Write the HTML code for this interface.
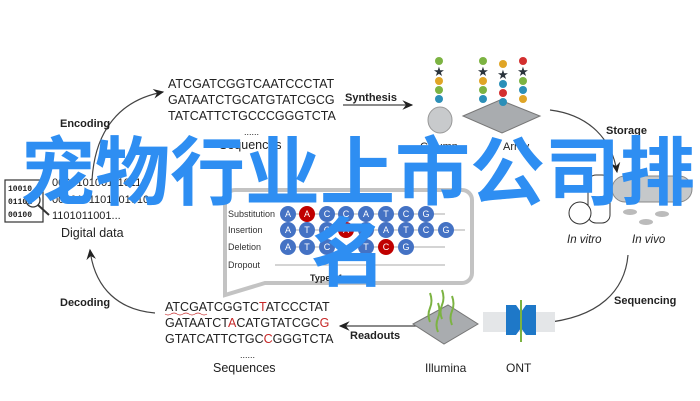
<!DOCTYPE html>
<html><head><meta charset="utf-8"><style>
html,body{margin:0;padding:0;background:#fff;}
svg{display:block;}
.t{font-family:"Liberation Sans",sans-serif;fill:#222;}
.b{font-weight:bold;}
.c{font-family:"Liberation Sans",sans-serif;font-size:9px;fill:#fff;text-anchor:middle;}
.cjk{font-family:"Liberation Sans","Noto Sans CJK SC",sans-serif;font-weight:bold;fill:#2e8ef2;font-size:75px;}
.st{font-family:"DejaVu Sans",sans-serif;font-size:13px;fill:#2a333b;text-anchor:middle;}
</style></head><body>
<svg width="700" height="401" viewBox="0 0 700 401" xmlns="http://www.w3.org/2000/svg">
<defs><marker id="ah" markerWidth="10" markerHeight="10" refX="8" refY="5" orient="auto"><path d="M0,1 L9,5 L0,9 L3,5 z" fill="#222"/></marker></defs>

<!-- arcs -->
<path d="M92,180 C95,130 120,100 163,92" fill="none" stroke="#444" stroke-width="1.2" marker-end="url(#ah)"/>
<path d="M155,313 C120,310 95,290 90,250" fill="none" stroke="#444" stroke-width="1.2" marker-end="url(#ah)"/>
<path d="M550,110 C590,115 612,140 617,172" fill="none" stroke="#444" stroke-width="1.2" marker-end="url(#ah)"/>
<path d="M628,255 C625,290 600,318 542,323" fill="none" stroke="#444" stroke-width="1.2" marker-end="url(#ah)"/>
<line x1="343" y1="105" x2="412" y2="105" stroke="#444" stroke-width="1.2" marker-end="url(#ah)"/>
<line x1="422" y1="326" x2="340" y2="326" stroke="#444" stroke-width="1.2" marker-end="url(#ah)"/>

<!-- top sequences -->
<text class="t" x="168" y="88" font-size="12.5">ATCGATCGGTCAATCCCTAT</text>
<text class="t" x="168" y="104" font-size="12.5">GATAATCTGCATGTATCGCG</text>
<text class="t" x="168" y="120" font-size="12.5">TATCATTCTGCCCGGGTCTA</text>
<text class="t" x="244" y="135" font-size="9">......</text>
<text class="t" x="219" y="149" font-size="12.5">Sequences</text>
<text class="t b" x="60" y="127" font-size="11">Encoding</text>
<text class="t b" x="345" y="101" font-size="11">Synthesis</text>

<!-- column & array -->
<ellipse cx="440" cy="120" rx="12" ry="13" fill="#c8cacc" stroke="#999"/>
<polygon points="463,116 500,100 540,116 502,133" fill="#a9acaf" stroke="#777"/>
<g>
<circle cx="439" cy="61" r="4" fill="#7cb342"/><text class="st" x="439" y="76">★</text>
<circle cx="439" cy="81" r="4" fill="#e0a526"/><circle cx="439" cy="90" r="4" fill="#7cb342"/><circle cx="439" cy="99" r="4" fill="#2b8fb8"/>
<circle cx="483" cy="61" r="4" fill="#7cb342"/><text class="st" x="483" y="76">★</text>
<circle cx="483" cy="81" r="4" fill="#e0a526"/><circle cx="483" cy="90" r="4" fill="#7cb342"/><circle cx="483" cy="99" r="4" fill="#2b8fb8"/>
<circle cx="503" cy="64" r="4" fill="#e0a526"/><text class="st" x="503" y="79">★</text>
<circle cx="503" cy="84" r="4" fill="#2b8fb8"/><circle cx="503" cy="93" r="4" fill="#d32f2f"/><circle cx="503" cy="102" r="4" fill="#2b8fb8"/>
<circle cx="523" cy="61" r="4" fill="#d32f2f"/><text class="st" x="523" y="76">★</text>
<circle cx="523" cy="81" r="4" fill="#7cb342"/><circle cx="523" cy="90" r="4" fill="#2b8fb8"/><circle cx="523" cy="99" r="4" fill="#e0a526"/>
</g>
<text class="t" x="420" y="150" font-size="11">Column</text>
<text class="t" x="503" y="150" font-size="11">Array</text>

<!-- storage -->
<text class="t b" x="606" y="134" font-size="11">Storage</text>
<rect x="588" y="175" width="22" height="48" rx="8" fill="#fff" stroke="#333"/>
<circle cx="580" cy="213" r="11" fill="#fff" stroke="#333"/>
<rect x="612" y="176" width="80" height="26" rx="13" fill="#c5c8ca" stroke="#888"/>
<ellipse cx="630" cy="212" rx="7" ry="3" fill="#bbb"/><ellipse cx="662" cy="214" rx="7" ry="3" fill="#bbb"/><ellipse cx="646" cy="222" rx="7" ry="3" fill="#bbb"/>
<text class="t" x="567" y="243" font-size="11.5" font-style="italic">In vitro</text>
<text class="t" x="632" y="243" font-size="11.5" font-style="italic">In vivo</text>

<!-- digital data -->
<rect x="5" y="180" width="38" height="42" fill="#fff" stroke="#333" stroke-width="1.2"/>
<text x="8" y="191" font-size="8" font-family="Liberation Mono" font-weight="bold" fill="#222">10010</text>
<text x="8" y="204" font-size="8" font-family="Liberation Mono" font-weight="bold" fill="#222">01101</text>
<text x="8" y="217" font-size="8" font-family="Liberation Mono" font-weight="bold" fill="#222">00100</text>
<circle cx="33" cy="200" r="7" fill="none" stroke="#333" stroke-width="1.3"/><line x1="38" y1="205" x2="49" y2="215" stroke="#333" stroke-width="2"/>
<text class="t" x="52" y="186" font-size="11">0000101001110110</text>
<text class="t" x="52" y="203" font-size="11">0010101101001010</text>
<text class="t" x="52" y="219" font-size="11">1101011001...</text>
<text class="t" x="61" y="237" font-size="12.5">Digital data</text>
<text class="t b" x="60" y="306" font-size="11">Decoding</text>

<!-- bottom sequences -->
<text class="t" x="165" y="311" font-size="12.5">ATCGATCGGTC<tspan fill="#c62828">T</tspan>ATCCCTAT</text>
<text class="t" x="165" y="327" font-size="12.5">GATAATCT<tspan fill="#c62828">A</tspan>CATGTATCGC<tspan fill="#c62828">G</tspan></text>
<text class="t" x="165" y="343" font-size="12.5">GTATCATTCTGC<tspan fill="#c62828">C</tspan>GGGTCTA</text>
<path d="M165,314 q3,2 6,0 t6,0 t6,0 t6,0 t6,0 t6,0 t6,0" fill="none" stroke="#c62828" stroke-width="0.7"/>
<text class="t" x="240" y="358" font-size="9">......</text>
<text class="t" x="213" y="372" font-size="12.5">Sequences</text>
<text class="t b" x="350" y="339" font-size="11">Readouts</text>

<!-- illumina / ONT -->
<polygon points="413,324 448,305 478,324 444,344" fill="#a9acaf" stroke="#777"/>
<path d="M430,293 q3,8 0,15 t0,14" fill="none" stroke="#7cb342" stroke-width="2"/>
<path d="M442,290 q3,8 0,15 t0,14" fill="none" stroke="#7cb342" stroke-width="2"/>
<path d="M452,296 q3,8 0,15 t0,14" fill="none" stroke="#7cb342" stroke-width="2"/>
<path d="M438,303 q3,8 0,15 t0,14" fill="none" stroke="#7cb342" stroke-width="2"/>
<rect x="483" y="312" width="72" height="20" fill="#e4e6e8"/>
<path d="M506,305 h10 l5,7 l5,-7 h10 v30 h-10 l-5,-7 l-5,7 h-10 z" fill="#1e78c8"/>
<line x1="521" y1="300" x2="521" y2="342" stroke="#7cb342" stroke-width="2"/>
<text class="t" x="425" y="372" font-size="12">Illumina</text>
<text class="t" x="506" y="372" font-size="12">ONT</text>
<text class="t b" x="614" y="304" font-size="11">Sequencing</text>

<!-- errors panel -->
<path d="M235,190 H462 a10,10 0 0 1 10,10 V273 a10,10 0 0 1 -10,10 H265 L225,295 V200 a10,10 0 0 1 10,-10 z" fill="#fff" stroke="#c3c3c3" stroke-width="4"/>
<g font-family="Liberation Sans" font-size="9" fill="#333">
<text x="228" y="217">Substitution</text><text x="228" y="233">Insertion</text><text x="228" y="250">Deletion</text><text x="228" y="268">Dropout</text>
</g>
<g stroke="#aaa" stroke-width="1"><line x1="280" y1="214" x2="445" y2="214"/><line x1="280" y1="230" x2="465" y2="230"/><line x1="280" y1="247" x2="445" y2="247"/><line x1="275" y1="265" x2="445" y2="265"/></g>
<g>
<circle cx="288" cy="214" r="8" fill="#4472c4"/><circle cx="307" cy="214" r="8" fill="#c00000"/><circle cx="327" cy="214" r="8" fill="#4472c4"/><circle cx="346" cy="214" r="8" fill="#4472c4"/><circle cx="366" cy="214" r="8" fill="#4472c4"/><circle cx="386" cy="214" r="8" fill="#4472c4"/><circle cx="406" cy="214" r="8" fill="#4472c4"/><circle cx="426" cy="214" r="8" fill="#4472c4"/>
<circle cx="288" cy="230" r="8" fill="#4472c4"/><circle cx="307" cy="230" r="8" fill="#4472c4"/><circle cx="327" cy="230" r="8" fill="#4472c4"/><circle cx="346" cy="230" r="8" fill="#c00000"/><circle cx="366" cy="230" r="8" fill="#4472c4"/><circle cx="386" cy="230" r="8" fill="#4472c4"/><circle cx="406" cy="230" r="8" fill="#4472c4"/><circle cx="426" cy="230" r="8" fill="#4472c4"/><circle cx="446" cy="230" r="8" fill="#4472c4"/>
<circle cx="288" cy="247" r="8" fill="#4472c4"/><circle cx="307" cy="247" r="8" fill="#4472c4"/><circle cx="327" cy="247" r="8" fill="#4472c4"/><circle cx="366" cy="247" r="8" fill="#4472c4"/><circle cx="386" cy="247" r="8" fill="#c00000"/><circle cx="406" cy="247" r="8" fill="#4472c4"/>
</g>
<g>
<text class="c" x="288" y="217">A</text><text class="c" x="307" y="217">A</text><text class="c" x="327" y="217">C</text><text class="c" x="346" y="217">C</text><text class="c" x="366" y="217">A</text><text class="c" x="386" y="217">T</text><text class="c" x="406" y="217">C</text><text class="c" x="426" y="217">G</text>
<text class="c" x="288" y="233">A</text><text class="c" x="307" y="233">T</text><text class="c" x="327" y="233">C</text><text class="c" x="346" y="233">A</text><text class="c" x="366" y="233">C</text><text class="c" x="386" y="233">A</text><text class="c" x="406" y="233">T</text><text class="c" x="426" y="233">C</text><text class="c" x="446" y="233">G</text>
<text class="c" x="288" y="250">A</text><text class="c" x="307" y="250">T</text><text class="c" x="327" y="250">C</text><text class="c" x="366" y="250">T</text><text class="c" x="386" y="250">C</text><text class="c" x="406" y="250">G</text>
</g>
<text class="t b" x="310" y="281" font-size="9">Type of errors</text>

<!-- overlay -->
<text class="cjk" x="20" y="199">宠物行业上市公司排</text>
<text class="cjk" x="311" y="280">名</text>
</svg>
</body></html>
